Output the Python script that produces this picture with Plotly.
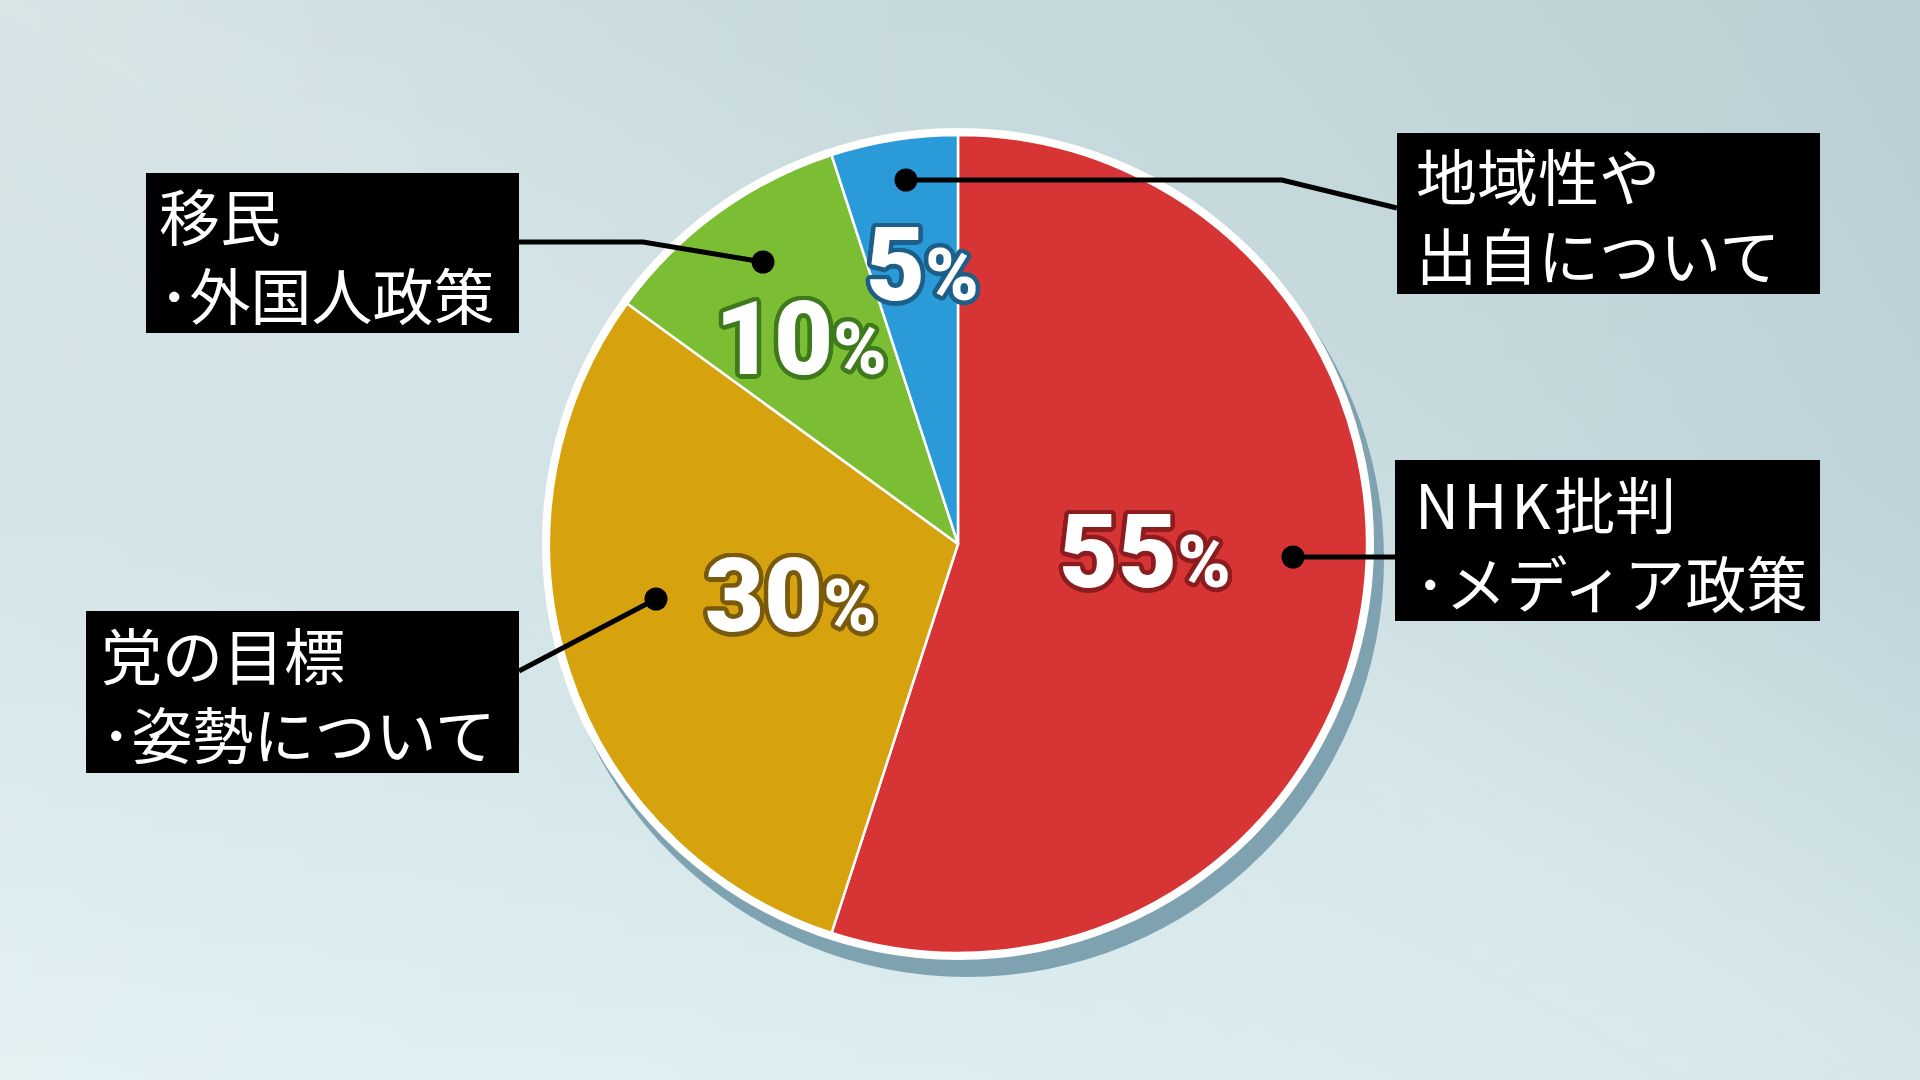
import base64
import numpy as np
import plotly.graph_objects as go

W, H = 1920, 1080

# データ（円グラフの割合）
categories = ["NHK批判・メディア政策", "党の目標・姿勢について", "移民・外国人政策", "地域性や出自について"]
shares = [55, 30, 10, 5]
box_text = [
    "N\u200aH\u200aK\u200a批判<br>･メディア政策",
    "党の目標<br>･姿勢について",
    "移民<br>･外国人政策",
    "地域性や<br>出自について",
]

# 色
slice_colors = ["#d73435", "#d6a30f", "#7bbe33", "#2a9bd8"]
edge_colors = ["#8c1d1f", "#7a5a0b", "#3f7a1c", "#1d5f88"]

# 配置 (px)
cx, cy, r = 958, 544, 409
pct_pos = [(1145, 552), (791, 596), (801, 339), (922, 265)]
boxes = [(1395, 460, 1820, 621), (86, 611, 519, 773), (146, 173, 519, 333), (1397, 133, 1820, 294)]
text_x = [1413, 99, 157, 1414]
connectors = [
    [(1293, 557), (1395, 557)],
    [(656, 599), (519, 671)],
    [(763, 262), (643, 242), (519, 242)],
    [(906, 180), (1282, 180), (1397, 208)],
]


def px(x):
    return x / W


def py(y):
    return 1 - y / H


def outline(c, w=4.5):
    parts = []
    for a in np.linspace(0, 2 * np.pi, 24, endpoint=False):
        parts.append(f"{w * np.cos(a):.1f}px {w * np.sin(a):.1f}px 0 {c}")
    return ", ".join(parts)


# 背景グラデーション
svg = (
    "<svg xmlns='http://www.w3.org/2000/svg' width='1920' height='1080'>"
    "<defs><linearGradient id='g' x1='0' y1='0' x2='0' y2='1'>"
    "<stop offset='0' stop-color='#c3d7da'/><stop offset='0.45' stop-color='#c8dce0'/>"
    "<stop offset='1' stop-color='#dbedf0'/></linearGradient>"
    "<linearGradient id='h' x1='0' y1='0' x2='1' y2='0'>"
    "<stop offset='0' stop-color='#ffffff' stop-opacity='0.22'/>"
    "<stop offset='0.5' stop-color='#ffffff' stop-opacity='0.05'/>"
    "<stop offset='1' stop-color='#5f8490' stop-opacity='0.10'/></linearGradient>"
    "<linearGradient id='b' x1='0' y1='1' x2='1' y2='0'>"
    "<stop offset='0.3' stop-color='#ffffff' stop-opacity='0'/>"
    "<stop offset='0.5' stop-color='#ffffff' stop-opacity='0.15'/>"
    "<stop offset='0.7' stop-color='#ffffff' stop-opacity='0'/></linearGradient></defs>"
    "<rect width='1920' height='1080' fill='url(#g)'/>"
    "<rect width='1920' height='1080' fill='url(#h)'/>"
    "<rect width='1920' height='1080' fill='url(#b)'/></svg>"
)
bg_src = "data:image/svg+xml;base64," + base64.b64encode(svg.encode()).decode()

fig = go.Figure()
fig.add_trace(go.Pie(
    labels=categories,
    values=shares,
    sort=False,
    direction="clockwise",
    rotation=0,
    textinfo="none",
    hoverinfo="label+percent",
    marker=dict(colors=slice_colors, line=dict(color="white", width=2.5)),
    domain=dict(x=[px(cx - r), px(cx + r)], y=[py(cy + r), py(cy - r)]),
    showlegend=False,
))

shapes = []
# 影と白い縁
shapes.append(dict(type="circle", xref="paper", yref="paper", layer="below",
                   x0=px(cx + 9 - 417), x1=px(cx + 9 + 417), y0=py(cy + 16 + 417), y1=py(cy + 16 - 417),
                   fillcolor="#7fa2b1", line=dict(width=0)))
shapes.append(dict(type="circle", xref="paper", yref="paper", layer="below",
                   x0=px(cx - 416), x1=px(cx + 416), y0=py(cy + 416), y1=py(cy - 416),
                   fillcolor="white", line=dict(width=0)))

annotations = []
for i, t in enumerate(box_text):
    x0, y0, x1, y1 = boxes[i]
    shapes.append(dict(type="rect", xref="paper", yref="paper", layer="above",
                       x0=px(x0), x1=px(x1), y0=py(y1), y1=py(y0),
                       fillcolor="black", line=dict(width=0)))
    pts = connectors[i]
    path = "M " + " L ".join(f"{px(a):.5f},{py(b):.5f}" for a, b in pts)
    shapes.append(dict(type="path", xref="paper", yref="paper", layer="above",
                       path=path, line=dict(color="black", width=5)))
    dx, dy = pts[0]
    shapes.append(dict(type="circle", xref="paper", yref="paper", layer="above",
                       x0=px(dx - 11.5), x1=px(dx + 11.5), y0=py(dy + 11.5), y1=py(dy - 11.5),
                       fillcolor="black", line=dict(width=0)))
    annotations.append(dict(
        text=t, xref="paper", yref="paper", x=px(text_x[i]), y=py((y0 + y1) / 2 + 1),
        xanchor="left", yanchor="middle", align="left", showarrow=False,
        font=dict(family="Noto Sans CJK JP", size=61, color="white"),
    ))

for i, v in enumerate(shares):
    x, y = pct_pos[i]
    annotations.append(dict(
        text=f"{v}<span style='font-size:72px'>%</span>",
        xref="paper", yref="paper", x=px(x), y=py(y),
        xanchor="center", yanchor="middle", showarrow=False,
        font=dict(family="Roboto, Arial, sans-serif", size=102, weight=900, color="white",
                  shadow=outline(edge_colors[i])),
    ))

fig.update_layout(
    width=W, height=H,
    margin=dict(l=0, r=0, t=0, b=0),
    paper_bgcolor="#cde0e3",
    plot_bgcolor="rgba(0,0,0,0)",
    images=[dict(source=bg_src, xref="paper", yref="paper", x=0, y=1, sizex=1, sizey=1,
                 sizing="stretch", xanchor="left", yanchor="top", layer="below")],
    shapes=shapes,
    annotations=annotations,
)

fig.write_html("out.html", config={"displayModeBar": False},
               post_script="document.body.style.margin='0';document.body.style.overflow='hidden';")
